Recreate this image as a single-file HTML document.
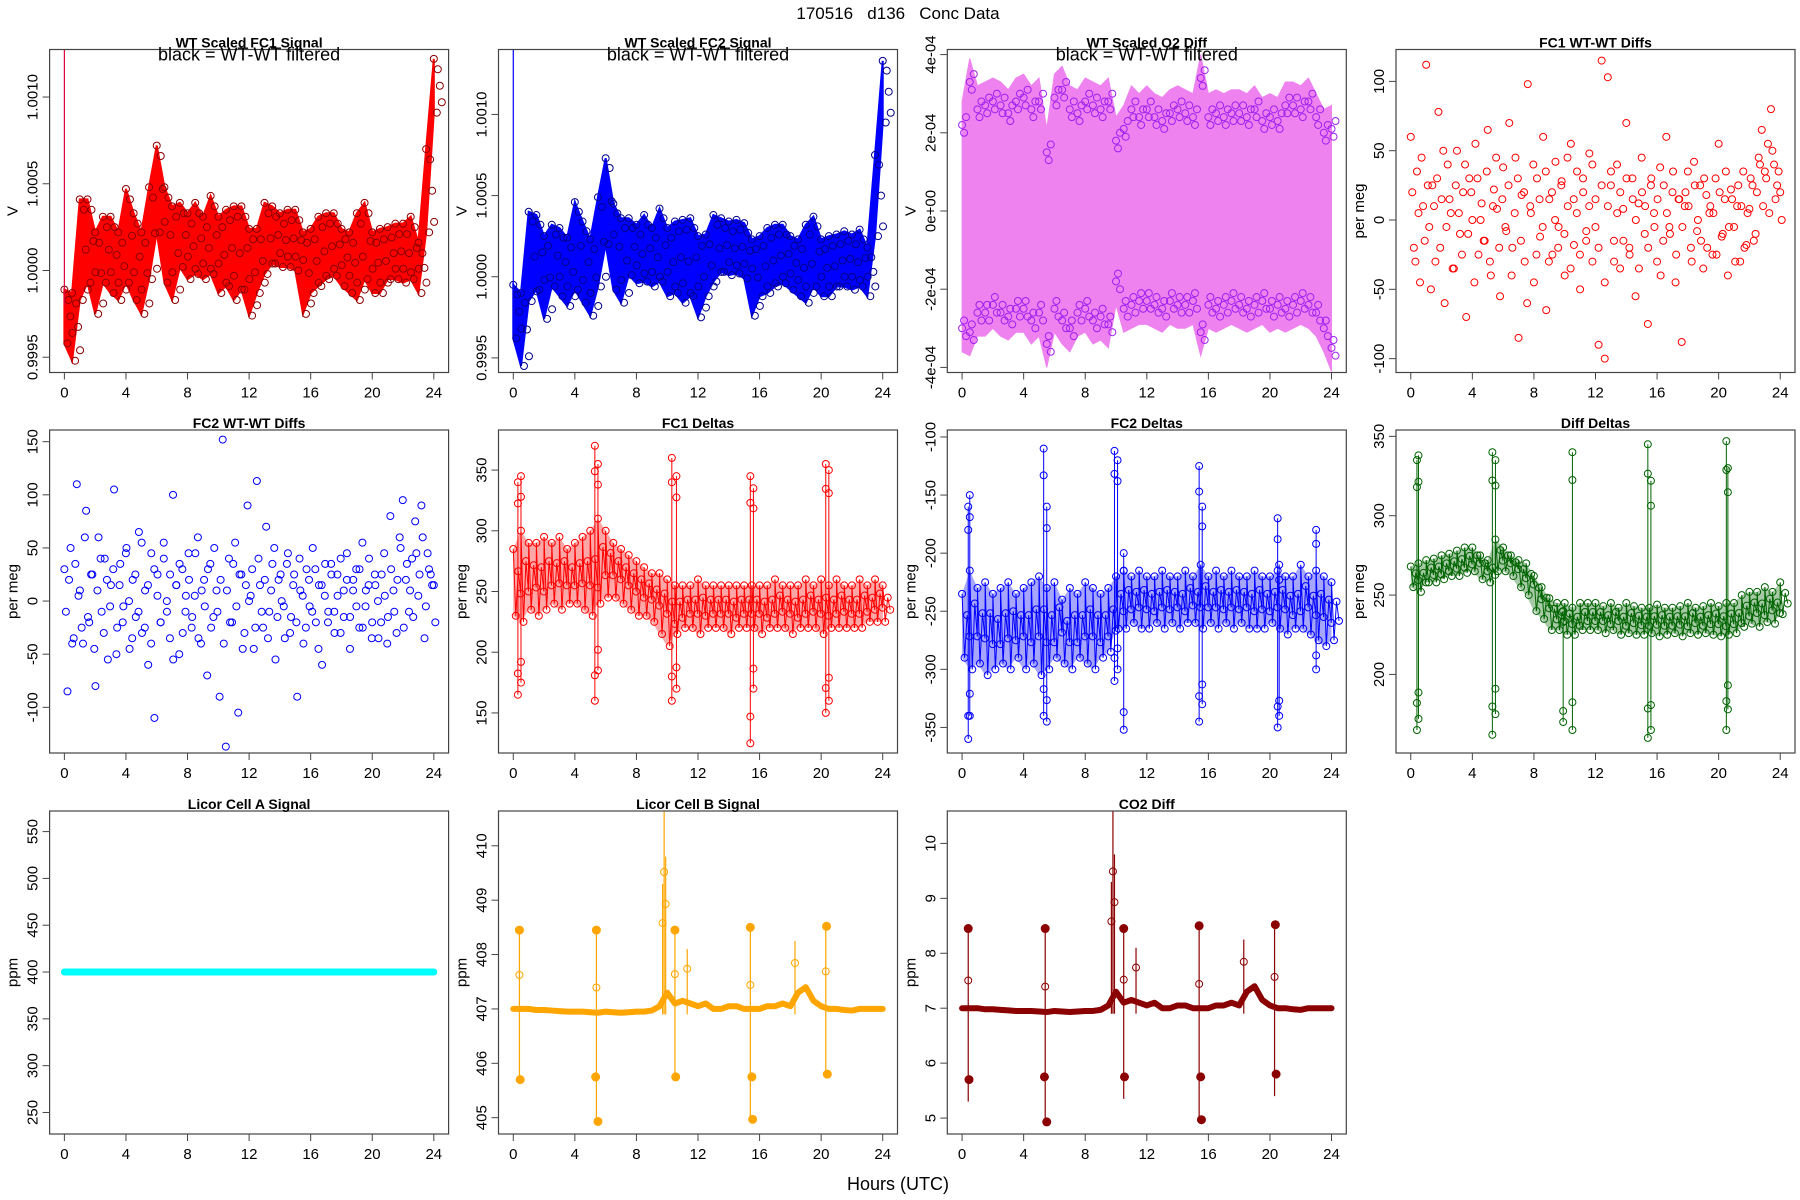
<!DOCTYPE html>
<html><head><meta charset="utf-8"><style>
body{margin:0;background:#fff}
svg{display:block;font-family:"Liberation Sans",sans-serif}
</style></head><body>
<svg id="c" width="1800" height="1200" viewBox="0 0 1800 1200">
<text x="898" y="19" text-anchor="middle" font-size="17" style="white-space:pre">170516   d136   Conc Data</text>
<text x="898" y="1190" text-anchor="middle" font-size="18">Hours (UTC)</text>
</svg>
<script>
// ---------- data ----------
const xTicks=[0,4,8,12,16,20,24];
const fc1Upper=[-1.1,-1.3,4.1,4.1,2.2,3.1,3.1,2.2,4.7,3.3,2.2,4.8,7.2,4.8,3.7,3.9,3.3,3.9,3.1,4.3,3.1,3.5,3.7,3.7,2.4,2.4,3.9,3.7,3.3,3.5,3.5,2.2,2.4,3.1,3.3,3.3,2.4,2.2,3.3,3.9,2.2,2.4,2.5,2.7,2.7,3.1,1.6,7.0,12.2];
const fc1Lower=[-4.2,-5.2,-1.7,-0.7,-2.5,-0.7,-1.3,-1.7,-0.7,-1.7,-2.5,-0.5,2.2,-0.7,-1.7,0.2,-0.5,-0.2,-0.5,-0.2,-1.3,-0.9,-1.7,-1.1,-2.6,-1.3,-0.2,0.4,0.2,0.2,0,-2.5,-1.3,-0.9,-0.5,-0.3,-0.9,-1.3,-1.7,-0.5,-1.3,-1.3,-0.5,-0.5,-0.7,-0.5,-1.3,2.2,9.1];
const fc2Upper=[-0.5,-1.0,4.0,3.8,2.5,3.2,3.0,2.4,4.6,3.4,2.3,4.9,7.3,4.5,3.6,3.6,3.2,3.8,3.0,4.2,3.0,3.4,3.5,3.6,2.5,2.6,3.8,3.6,3.4,3.5,3.3,2.3,2.5,3.0,3.2,3.2,2.5,2.3,3.2,3.7,2.3,2.5,2.6,2.8,2.6,2.9,1.8,7.5,13.3];
const fc2Lower=[-3.8,-5.5,-1.5,-0.8,-2.6,-0.6,-1.2,-1.8,-0.8,-1.6,-2.4,-0.6,2.0,-0.8,-1.6,0.1,-0.4,-0.3,-0.6,-0.3,-1.2,-1.0,-1.6,-1.2,-2.5,-1.2,-0.3,0.3,0.1,0.2,-0.1,-2.4,-1.2,-1.0,-0.6,-0.4,-0.8,-1.2,-1.6,-0.6,-1.2,-1.2,-0.6,-0.6,-0.8,-0.6,-1.2,2.5,9.5];
const sigTickVals=[-5,0,5,10];
const sigTickLabels=["0.9995","1.0000","1.0005","1.0010"];
const o2Top=[2.2,3.3,2.6,2.7,2.8,2.7,2.5,2.8,2.9,2.6,2.8,1.5,2.9,3.1,2.6,2.5,2.8,2.7,2.6,2.8,1.8,2.1,2.6,2.4,2.6,2.4,2.3,2.5,2.6,2.5,2.4,3.4,2.4,2.5,2.4,2.5,2.5,2.4,2.6,2.3,2.4,2.3,2.7,2.7,2.6,2.8,2.4,2.0,2.1];
const o2Bot=[-3.0,-3.1,-2.6,-2.6,-2.4,-2.6,-2.7,-2.5,-2.5,-2.8,-2.6,-3.4,-2.5,-2.8,-3.0,-2.6,-2.5,-2.8,-2.7,-2.9,-1.8,-2.5,-2.4,-2.3,-2.3,-2.4,-2.5,-2.3,-2.4,-2.4,-2.3,-3.1,-2.4,-2.5,-2.4,-2.3,-2.4,-2.5,-2.4,-2.3,-2.5,-2.4,-2.5,-2.4,-2.3,-2.4,-2.6,-3.0,-3.5];
const o2TickVals=[-4,-2,0,2,4];
const o2TickLabels=["-4e-04","-2e-04","0e+00","2e-04","4e-04"];
const fc1Diffs=[60,-20,35,-45,10,112,-5,25,-30,78,15,-60,40,5,-35,50,-10,20,-70,30,0,55,-25,12,-15,65,-40,22,8,-55,38,-8,70,-20,45,-85,18,-30,98,5,-45,30,-12,60,-65,15,-25,42,-5,28,-40,10,55,-18,35,-50,20,-8,48,-30,15,-90,115,-100,103,25,-15,40,-35,8,70,-20,30,-55,12,45,-10,-75,25,5,-30,38,-15,60,-5,20,-45,15,-88,10,35,-20,42,-8,25,-35,18,5,-25,30,55,-12,15,-40,22,-5,10,-30,35,-18,8,25,-10,45,65,35,55,80,40,25,20];
const fc1Diffs2=[20,-30,5,45,-15,25,-50,10,30,-20,50,-5,15,-35,25,5,-25,40,-10,20,-45,30,0,-15,35,-30,10,45,-20,15,-5,25,-40,5,30,-15,20,-60,10,40,-25,15,-5,35,-30,20,0,-20,25,-10,45,-35,15,5,-25,30,-15,10,40,-5,-20,25,-45,10,35,-30,5,20,-15,30,-25,15,0,-35,20,10,-20,30,-5,15,-40,25,5,-10,35,-25,15,-5,20,10,-30,25,0,-15,30,-20,10,5,-25,20,-10,35,-5,15,-30,25,10,-20,5,30,-15,20,40,10,30,5,50,15,35,0];
const fc2Diffs=[30,-85,50,-35,110,10,-40,85,-20,25,-80,60,-10,40,-55,15,105,-25,35,-5,50,-45,20,-15,65,-30,10,-60,45,-110,25,-20,55,0,-35,100,15,-50,30,-10,45,-25,5,60,-40,20,-70,35,-15,10,-90,152,-137,40,-20,55,-105,25,-30,90,5,-45,113,15,-25,70,-10,35,-55,20,0,-35,45,-15,25,-90,10,-40,30,-5,50,-20,15,-60,35,-10,25,-30,5,40,-15,20,-45,10,30,-25,55,-5,15,-35,25,0,-20,45,-40,80,10,-30,60,95,20,-10,40,75,5,90,-35,45,25,15];
const fc2Diffs2=[-10,20,-40,35,5,-25,60,-15,25,-45,10,40,-30,20,-5,30,-50,15,-20,45,0,-35,25,-10,55,-25,15,-40,30,5,-20,40,-10,25,-55,15,35,-30,5,20,-15,45,-35,10,-5,30,-25,50,-10,20,-40,10,-20,35,-5,25,-45,15,0,30,-25,40,-10,20,-35,10,50,-15,25,-5,35,-30,15,-20,40,5,-25,20,-10,30,-45,15,5,-20,35,-10,25,-30,10,45,-15,20,-5,30,-25,10,40,-20,15,-35,25,5,-15,30,-10,20,50,-25,35,10,-15,45,25,60,-5,30,15,-20];
const d1Hi=[285,300,290,290,295,290,295,285,290,295,300,310,300,290,285,280,275,270,265,265,260,255,255,255,260,255,255,255,255,255,255,255,255,255,260,255,255,255,260,255,260,255,260,255,255,260,255,260,255];
const d1Lo=[230,225,235,230,235,240,235,240,240,235,230,240,245,245,240,235,230,230,225,215,205,215,220,220,215,220,220,220,215,220,220,220,215,220,220,220,215,220,220,220,215,220,220,220,220,220,225,225,225];
const d1SpikeT=[0.3,0.5,5.3,5.5,10.3,10.6,15.4,15.6,20.3,20.5];
const d1SpikeHi=[340,345,370,355,360,345,345,335,355,350];
const d1SpikeLo=[165,175,160,185,160,170,125,170,150,160];
const d2Hi=[-235,-215,-230,-225,-235,-230,-225,-235,-230,-225,-220,-230,-225,-240,-230,-235,-225,-230,-235,-230,-220,-215,-220,-215,-220,-220,-215,-220,-220,-215,-220,-210,-220,-215,-220,-215,-220,-220,-215,-220,-220,-215,-220,-220,-210,-220,-215,-220,-225];
const d2Lo=[-290,-300,-295,-305,-300,-295,-300,-290,-300,-295,-305,-300,-290,-295,-300,-290,-295,-300,-290,-285,-265,-265,-260,-265,-265,-260,-265,-260,-265,-260,-260,-265,-260,-265,-260,-265,-260,-265,-265,-265,-260,-265,-270,-265,-265,-270,-275,-280,-275];
const d2SpikeT=[0.4,0.5,5.3,5.5,9.9,10.1,10.5,15.4,15.6,20.5,20.6,23.0];
const d2SpikeHi=[-160,-150,-110,-160,-112,-120,-200,-125,-160,-170,-210,-180];
const d2SpikeLo=[-360,-340,-340,-345,-310,-300,-352,-345,-330,-350,-340,-300];
const ddHi=[268,270,272,273,275,276,278,280,280,275,272,285,280,275,272,270,262,255,248,245,245,242,245,245,245,243,245,242,245,243,242,242,244,242,242,243,245,242,243,245,243,245,245,250,252,252,255,252,258];
const ddLo=[255,252,258,258,260,262,262,264,265,260,258,265,265,262,255,250,240,235,228,228,225,225,228,228,228,226,228,225,226,225,225,226,224,225,226,224,226,225,226,225,224,225,226,230,232,230,233,232,238];
const ddSpikeT=[0.4,0.5,5.3,5.5,9.9,10.5,15.4,15.6,20.5,20.6];
const ddSpikeHi=[335,338,340,335,240,340,345,322,347,330];
const ddSpikeLo=[165,172,162,175,170,165,160,165,165,178];
const licorA=[400,400,400,400,400,400,400,400,400,400,400,400,400,400,400,400,400,400,400,400,400,400,400,400,400,400,400,400,400,400,400,400,400,400,400,400,400,400,400,400,400,400,400,400,400,400,400,400,400];
const licorB=[407.0,407.0,407.0,406.98,406.98,406.97,406.96,406.95,406.95,406.95,406.94,406.93,406.95,406.94,406.93,406.94,406.95,406.95,406.97,407.05,407.3,407.1,407.15,407.1,407.05,407.1,407.0,407.0,407.05,407.05,407.0,407.0,407.0,407.05,407.05,407.1,407.05,407.3,407.4,407.15,407.05,407.0,407.0,406.98,406.97,407.0,407.0,407.0,407.0];
const lbSpikeT=[0.4,5.4,9.7,9.8,9.9,10.5,11.3,15.4,18.3,20.3];
const lbSpikeHi=[408.45,408.45,409.3,410.64,409.8,408.45,408.1,408.5,408.25,408.5];
const lbSpikeLo=[405.7,404.93,406.9,406.9,406.9,405.75,406.9,404.97,406.9,405.8];
const lbDotT=[0.4,0.45,5.4,5.35,5.5,10.5,10.55,15.4,15.5,15.55,20.35,20.4];
const lbDotV=[408.45,405.7,408.45,405.75,404.93,408.45,405.75,408.5,405.75,404.97,408.52,405.8];
const co2=[7.0,7.0,7.0,6.98,6.98,6.97,6.96,6.95,6.95,6.95,6.94,6.93,6.95,6.94,6.93,6.94,6.95,6.95,6.97,7.05,7.3,7.1,7.15,7.1,7.05,7.1,7.0,7.0,7.05,7.05,7.0,7.0,7.0,7.05,7.05,7.1,7.05,7.3,7.4,7.15,7.05,7.0,7.0,6.98,6.97,7.0,7.0,7.0,7.0];
const coSpikeT=[0.4,5.4,9.7,9.8,9.9,10.5,11.3,15.4,18.3,20.3];
const coSpikeHi=[8.45,8.45,9.3,10.6,9.8,8.45,8.1,8.5,8.25,8.5];
const coSpikeLo=[5.3,4.93,6.9,6.9,6.9,5.35,6.9,4.97,6.9,5.4];
const coDotT=[0.4,0.45,5.4,5.35,5.5,10.5,10.55,15.4,15.5,15.55,20.35,20.4];
const coDotV=[8.45,5.7,8.45,5.75,4.93,8.45,5.75,8.5,5.75,4.97,8.52,5.8];

// ---------- drawing ----------
const NS="http://www.w3.org/2000/svg";
const svg=document.getElementById('c');
const colL=[49.6,498.5,947.3,1396], rowT=[49.5,430,811], PW=399, PH=323;
function mk(tag,attrs,parent){const e=document.createElementNS(NS,tag);for(const k in attrs)e.setAttribute(k,attrs[k]);(parent||svg).appendChild(e);return e;}
function hours(n){const h=[];for(let i=0;i<n;i++)h.push(i*24/(n-1));return h;}

function panel(name,c,r,title,ylab,ydom,yVals,yLabs){
  const L=colL[c],T=rowT[r];
  const g=mk('g',{});
  
  
  const sx=v=>L+(v+0.96)/25.92*PW;
  const sy=v=>T+PH-(v-ydom[0])/(ydom[1]-ydom[0])*PH;
  const cp=mk('clipPath',{id:'cp'+name},g);
  mk('rect',{x:L,y:T,width:PW,height:PH},cp);
  const plot=mk('g',{'clip-path':'url(#cp'+name+')'},g);
  
  
  const fr=mk('rect',{x:L,y:T,width:PW,height:PH,fill:'none',stroke:'#444','stroke-width':1.2},g);
  
  
  const t=mk('text',{x:L+PW/2,y:T-2,'text-anchor':'middle','font-size':14,'font-weight':'bold'},g);
  t.textContent=title;
  
  
  const xa=mk('g',{},g);
  
  
  mk('line',{x1:sx(0),x2:sx(24),y1:T+PH,y2:T+PH,stroke:'#444'},xa);
  xTicks.forEach(v=>{
    mk('line',{x1:sx(v),x2:sx(v),y1:T+PH,y2:T+PH+7,stroke:'#444'},xa);
    const tl=mk('text',{x:sx(v),y:T+PH+25,'text-anchor':'middle','font-size':15},xa);
    tl.textContent=v;
    
    
  });
  const ya=mk('g',{},g);
  
  
  yVals.forEach((v,i)=>{
    mk('line',{x1:L-7,x2:L,y1:sy(v),y2:sy(v),stroke:'#444'},ya);
    const tl=mk('text',{x:0,y:0,'text-anchor':'middle','font-size':15,transform:`translate(${L-12},${sy(v)}) rotate(-90)`},ya);
    tl.textContent=yLabs[i];
    
    
  });
  const yt=mk('text',{x:0,y:0,'text-anchor':'middle','font-size':15,transform:`translate(${L-32},${T+PH/2}) rotate(-90)`},g);
  yt.textContent=ylab;
  
  
  return {sx,sy,plot,g,L,T};
}
function circ(p,x,y,col,fill,r){return mk('circle',{cx:x,cy:y,r:r||3.5,fill:fill||'none',stroke:col,'stroke-width':1},p.plot);}
function note(p){const t=mk('text',{x:p.L+PW/2,y:p.T+11,'text-anchor':'middle','font-size':18},p.g);t.textContent='black = WT-WT filtered';
  
  }

function bandSignal(p,up,lo,fillCol,circCol){
  const h=hours(up.length);
  let d='M'+h.map((t,i)=>p.sx(t)+','+p.sy(up[i])).join('L')+'L'+h.slice().reverse().map((t,j)=>{const i=up.length-1-j;return p.sx(t)+','+p.sy(lo[i]);}).join('L')+'Z';
  const poly=mk('path',{d,fill:fillCol,stroke:fillCol,'stroke-width':2},p.plot);
  
  
  h.forEach((t,i)=>{
    circ(p,p.sx(t),p.sy(up[i]),circCol);
    circ(p,p.sx(t)+3,p.sy(lo[i]),circCol);
    circ(p,p.sx(t)+6,p.sy((up[i]+lo[i])/2),circCol);
    circ(p,p.sx(t)+4,p.sy(up[i]-0.6),circCol);
    circ(p,p.sx(t)+8,p.sy(lo[i]+0.6),circCol);
  });
}
function deltas(p,hi,lo,sT,sH,sL,col){
  const h=hours(hi.length);
  let d='M'+h.map((t,i)=>p.sx(t)+','+p.sy(hi[i])).join('L')+'L'+h.slice().reverse().map((t,j)=>{const i=hi.length-1-j;return p.sx(t)+','+p.sy(lo[i]);}).join('L')+'Z';
  const band=mk('path',{d,fill:col,'fill-opacity':0.35,stroke:'none'},p.plot);
  
  
  let z='';h.forEach((t,i)=>{const x=p.sx(t);z+=(i?'L':'M')+x+','+p.sy(hi[i])+'L'+(x+2.5)+','+p.sy(lo[i])+'L'+(x+5)+','+p.sy((hi[i]*2+lo[i])/3)+'L'+(x+7.5)+','+p.sy((hi[i]+lo[i]*2)/3);});
  const ln=mk('path',{d:z,fill:'none',stroke:col,'stroke-width':1},p.plot);
  
  
  h.forEach((t,i)=>{const x=p.sx(t);circ(p,x,p.sy(hi[i]),col);circ(p,x+2.5,p.sy(lo[i]),col);circ(p,x+5,p.sy((hi[i]*2+lo[i])/3),col);circ(p,x+7.5,p.sy((hi[i]+lo[i]*2)/3),col);});
  sT.forEach((t,i)=>{
    const s=mk('line',{x1:p.sx(t),x2:p.sx(t),y1:p.sy(sH[i]),y2:p.sy(sL[i]),stroke:col,'stroke-width':1},p.plot);
    
    
    circ(p,p.sx(t),p.sy(sH[i]),col);circ(p,p.sx(t),p.sy(sL[i]),col);
    circ(p,p.sx(t),p.sy(sH[i]+(sL[i]-sH[i])*0.1),col);circ(p,p.sx(t),p.sy(sL[i]-(sL[i]-sH[i])*0.1),col);
  });
}
function scatter(p,vals,col,off){
  const h=hours(vals.length);
  vals.forEach((v,i)=>{const c=circ(p,p.sx(h[i])+(off||0),p.sy(v),col);
    
    });
}
function licor(p,base,sT,sH,sL,dT,dV,col){
  const h=hours(base.length);
  const ln=mk('path',{d:'M'+h.map((t,i)=>p.sx(t)+','+p.sy(base[i])).join('L'),fill:'none',stroke:col,'stroke-width':6,'stroke-linejoin':'round','stroke-linecap':'round'},p.plot);
  
  
  sT.forEach((t,i)=>{
    const s=mk('line',{x1:p.sx(t),x2:p.sx(t),y1:p.sy(sH[i]),y2:p.sy(sL[i]),stroke:col,'stroke-width':1.2},p.plot);
    
    
    circ(p,p.sx(t),p.sy(sH[i]+(sL[i]-sH[i])*0.3),col);
  });
  dT.forEach((t,i)=>{const c=circ(p,p.sx(t),p.sy(dV[i]),col,col,4);
    
    });
}

let p=panel('fc1-signal',0,0,'WT Scaled FC1 Signal','V',[-5.88,12.74],sigTickVals,sigTickLabels);
bandSignal(p,fc1Upper,fc1Lower,'#ff0000','#8b0000');
mk('line',{x1:p.sx(0),x2:p.sx(0),y1:p.T,y2:p.sy(-2),stroke:'#e0003a','stroke-width':1.2},p.plot);
note(p);
p=panel('fc2-signal',1,0,'WT Scaled FC2 Signal','V',[-5.9,14.0],sigTickVals,sigTickLabels);
bandSignal(p,fc2Upper,fc2Lower,'#0000ff','#00008b');
mk('line',{x1:p.sx(0),x2:p.sx(0),y1:p.T,y2:p.sy(-2),stroke:'#0000ff','stroke-width':1.2},p.plot);
note(p);
p=panel('o2-diff',2,0,'WT Scaled O2 Diff','V',[-4.13,4.13],o2TickVals,o2TickLabels);
{const h=hours(o2Top.length);
 const d='M'+h.map((t,i)=>p.sx(t)+','+p.sy(o2Top[i]+0.6)).join('L')+'L'+h.slice().reverse().map((t,j)=>{const i=o2Top.length-1-j;return p.sx(t)+','+p.sy(o2Bot[i]-0.6);}).join('L')+'Z';
 const f=mk('path',{d,fill:'#ee82ee',stroke:'#ee82ee'},p.plot);
 
 
 h.forEach((t,i)=>{const x=p.sx(t);
   circ(p,x,p.sy(o2Top[i]),'#a020f0');circ(p,x+4,p.sy(o2Top[i]+0.2),'#a020f0');circ(p,x+2,p.sy(o2Top[i]-0.2),'#a020f0');
   circ(p,x,p.sy(o2Bot[i]),'#a020f0');circ(p,x+4,p.sy(o2Bot[i]-0.2),'#a020f0');circ(p,x+2,p.sy(o2Bot[i]+0.2),'#a020f0');});}
note(p);
p=panel('fc1-diffs',3,0,'FC1 WT-WT Diffs','per meg',[-110,123],[-100,-50,0,50,100],["-100","-50","0","50","100"]);
scatter(p,fc1Diffs,'#ff0000');
scatter(p,fc1Diffs2,'#ff0000',1.5);
p=panel('fc2-diffs',0,1,'FC2 WT-WT Diffs','per meg',[-143,161],[-100,-50,0,50,100,150],["-100","-50","0","50","100","150"]);
scatter(p,fc2Diffs,'#0000ff');
scatter(p,fc2Diffs2,'#0000ff',1.5);
p=panel('fc1-deltas',1,1,'FC1 Deltas','per meg',[117,383],[150,200,250,300,350],["150","200","250","300","350"]);
deltas(p,d1Hi,d1Lo,d1SpikeT,d1SpikeHi,d1SpikeLo,'#ff0000');
p=panel('fc2-deltas',2,1,'FC2 Deltas','per meg',[-372,-94],[-350,-300,-250,-200,-150,-100],["-350","-300","-250","-200","-150","-100"]);
deltas(p,d2Hi,d2Lo,d2SpikeT,d2SpikeHi,d2SpikeLo,'#0000ff');
p=panel('diff-deltas',3,1,'Diff Deltas','per meg',[150.5,354],[200,250,300,350],["200","250","300","350"]);
deltas(p,ddHi,ddLo,ddSpikeT,ddSpikeHi,ddSpikeLo,'#006400');
p=panel('licor-a',0,2,'Licor Cell A Signal','ppm',[227,572],[250,300,350,400,450,500,550],["250","300","350","400","450","500","550"]);
{const h=hours(licorA.length);
 const ln=mk('path',{d:'M'+h.map((t,i)=>p.sx(t)+','+p.sy(licorA[i])).join('L'),fill:'none',stroke:'#00ffff','stroke-width':7,'stroke-linecap':'round'},p.plot);
 
 }
p=panel('licor-b',1,2,'Licor Cell B Signal','ppm',[404.7,410.64],[405,406,407,408,409,410],["405","406","407","408","409","410"]);
licor(p,licorB,lbSpikeT,lbSpikeHi,lbSpikeLo,lbDotT,lbDotV,'#ffa500');
p=panel('co2-diff',2,2,'CO2 Diff','ppm',[4.71,10.59],[5,6,7,8,9,10],["5","6","7","8","9","10"]);
licor(p,co2,coSpikeT,coSpikeHi,coSpikeLo,coDotT,coDotV,'#8b0000');
</script>
</body></html>
